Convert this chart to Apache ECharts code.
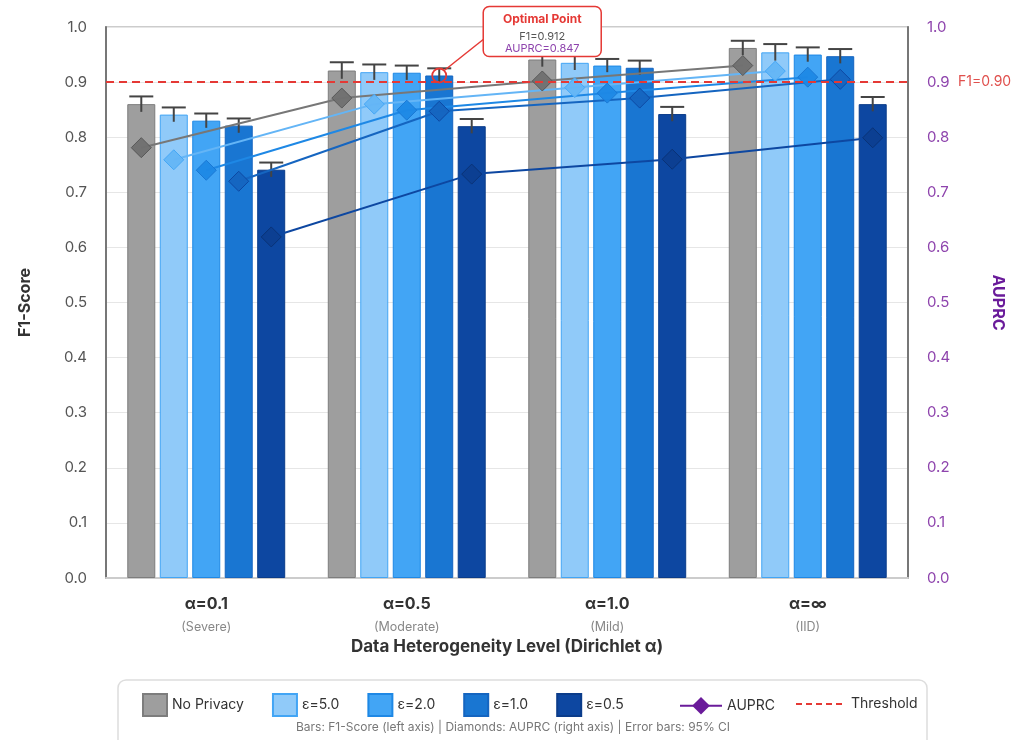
<!DOCTYPE html>
<html>
<head>
<meta charset="utf-8">
<script src="https://cdn.jsdelivr.net/npm/echarts@6/dist/echarts.min.js"></script>
<style>
  html, body { margin: 0; padding: 0; background: #fff; }
  #main { width: 1027px; height: 740px; }
</style>
</head>
<body>
<div id="main"></div>
<script>
// 数据
const categories = ['α=0.1', 'α=0.5', 'α=1.0', 'α=∞'];
const levels = ['(Severe)', '(Moderate)', '(Mild)', '(IID)'];
const names = ['No Privacy', 'ε=5.0', 'ε=2.0', 'ε=1.0', 'ε=0.5'];

// F1 (left axis)
const f1NoPriv = [0.860, 0.921, 0.941, 0.962];
const f1Eps5 = [0.841, 0.918, 0.935, 0.954];
const f1Eps2 = [0.830, 0.917, 0.930, 0.950];
const f1Eps1 = [0.821, 0.912, 0.926, 0.947];
const f1Eps05 = [0.741, 0.820, 0.842, 0.860];

// 95% CI half width
const errNoPriv = [0.014, 0.015, 0.013, 0.013];
const errEps5 = [0.013, 0.014, 0.013, 0.015];
const errEps2 = [0.013, 0.013, 0.012, 0.013];
const errEps1 = [0.013, 0.013, 0.013, 0.013];
const errEps05 = [0.013, 0.013, 0.013, 0.013];

// AUPRC (right axis)
const auNoPriv = [0.781, 0.871, 0.902, 0.930];
const auEps5 = [0.759, 0.860, 0.890, 0.920];
const auEps2 = [0.740, 0.849, 0.880, 0.909];
const auEps1 = [0.720, 0.847, 0.871, 0.905];
const auEps05 = [0.619, 0.733, 0.760, 0.799];

const yTicks = ['0.0', '0.1', '0.2', '0.3', '0.4', '0.5', '0.6', '0.7', '0.8', '0.9', '1.0'];
const threshold = 0.90;
const optimal = { cat: 1, k: 3, f1: 0.912, auprc: 0.847 };

const f1All = [f1NoPriv, f1Eps5, f1Eps2, f1Eps1, f1Eps05];
const errAll = [errNoPriv, errEps5, errEps2, errEps1, errEps05];
const auAll = [auNoPriv, auEps5, auEps2, auEps1, auEps05];

// 样式
const barFill = ['#9E9E9E', '#90CAF9', '#42A5F5', '#1976D2', '#0D47A1'];
const barBorder = ['#7d7d7d', '#42A5F5', '#1E88E5', '#1565C0', '#0B3C8A'];
const lineColor = ['#777777', '#64B5F6', '#1E88E5', '#1565C0', '#0D47A1'];
const diaFill = ['#707070', '#64B5F6', '#1E88E5', '#1565C0', '#0D3F91'];
const diaStroke = ['#555555', '#42A5F5', '#1976D2', '#0D47A1', '#0A3275'];

const FONT = 'Inter, "Noto Sans", sans-serif';
const BAR_W = 28;
const BAR_GAP = 0.16;
let barOffset = (k) => (k - 2) * BAR_W * (1 + BAR_GAP);

let chart = echarts.init(document.getElementById('main'));

let series = [];

// 柱状图
f1All.forEach((arr, k) => {
    series.push({
        name: names[k],
        type: 'bar',
        barWidth: BAR_W,
        barGap: (BAR_GAP * 100) + '%',
        data: arr,
        itemStyle: { color: barFill[k], borderColor: barBorder[k], borderWidth: 1 },
        z: 2
    });
});

// 误差线
let errData = [];
f1All.forEach((arr, k) => {
    arr.forEach((v, i) => errData.push([i, v, errAll[k][i], k]));
});
series.push({
    name: 'err',
    type: 'custom',
    data: errData,
    encode: { x: 0, y: 1 },
    z: 3,
    silent: true,
    renderItem: (params, api) => {
        let i = api.value(0), v = api.value(1), e = api.value(2), k = api.value(3);
        let p = api.coord([i, v]);
        let top = api.coord([i, v + e])[1];
        let bot = api.coord([i, v - e])[1];
        let x = p[0] + barOffset(k);
        let st = { stroke: '#444', lineWidth: 2 };
        return {
            type: 'group',
            children: [
                { type: 'line', shape: { x1: x, y1: top, x2: x, y2: bot }, style: st },
                { type: 'line', shape: { x1: x - 12, y1: top, x2: x + 12, y2: top }, style: st }
            ]
        };
    }
});

// AUPRC 折线 + 菱形
auAll.forEach((arr, k) => {
    series.push({
        name: 'auprc-' + k,
        type: 'custom',
        yAxisIndex: 1,
        data: arr.map((v, i) => [i, v]),
        encode: { x: 0, y: 1 },
        z: 4,
        silent: true,
        renderItem: (params, api) => {
            let i = params.dataIndex;
            let off = barOffset(k);
            let p = api.coord([i, arr[i]]);
            let x = p[0] + off, y = p[1];
            let children = [];
            if (i < arr.length - 1) {
                let q = api.coord([i + 1, arr[i + 1]]);
                children.push({
                    type: 'line', z2: 1,
                    shape: { x1: x, y1: y, x2: q[0] + off, y2: q[1] },
                    style: { stroke: lineColor[k], lineWidth: 2 }
                });
            }
            let r = 10;
            children.push({
                type: 'polygon', z2: 20,
                shape: { points: [[x, y - r], [x + r, y], [x, y + r], [x - r, y]] },
                style: { fill: diaFill[k], stroke: diaStroke[k], lineWidth: 1, opacity: 0.95 }
            });
            return { type: 'group', children: children };
        }
    });
});

// 最优点标注
series.push({
    name: 'optimal',
    type: 'custom',
    data: [[optimal.cat, optimal.f1]],
    encode: { x: 0, y: 1 },
    z: 10,
    silent: true,
    renderItem: (params, api) => {
        let p = api.coord([optimal.cat, optimal.f1]);
        let cx = p[0] + barOffset(optimal.k), cy = p[1];
        let bx = cx + 44, by = cy - 69, bw = 118, bh = 50;
        return {
            type: 'group',
            children: [
                { type: 'line', shape: { x1: cx + 5, y1: cy - 5, x2: bx, y2: by + 33 }, style: { stroke: '#E53935', lineWidth: 1.5 } },
                { type: 'circle', shape: { cx: cx, cy: cy, r: 7 }, style: { fill: 'rgba(255,255,255,0)', stroke: '#E53935', lineWidth: 1.8 } },
                { type: 'rect', shape: { x: bx, y: by, width: bw, height: bh, r: 6 }, style: { fill: '#fff', stroke: '#E53935', lineWidth: 1.5 } },
                { type: 'text', style: { text: 'Optimal Point', x: bx + bw / 2, y: by + 13, align: 'center', verticalAlign: 'middle', fill: '#E53935', font: 'bold 12px ' + FONT } },
                { type: 'text', style: { text: 'F1=' + optimal.f1.toFixed(3), x: bx + bw / 2, y: by + 30, align: 'center', verticalAlign: 'middle', fill: '#555', font: '11px ' + FONT } },
                { type: 'text', style: { text: 'AUPRC=' + optimal.auprc.toFixed(3), x: bx + bw / 2, y: by + 42, align: 'center', verticalAlign: 'middle', fill: '#8E44AD', font: '11px ' + FONT } }
            ]
        };
    }
});

// 图例用的系列
series.push({
    name: 'AUPRC',
    type: 'line',
    data: [],
    color: '#6A1B9A',
    symbol: 'diamond',
    symbolSize: 18,
    lineStyle: { width: 3, color: '#6A1B9A' },
    itemStyle: { color: '#6A1B9A' }
});
// 阈值线
series.push({
    name: 'Threshold',
    type: 'line',
    data: [],
    color: '#E53935',
    symbol: 'none',
    markLine: {
        silent: true,
        symbol: 'none',
        data: [{ yAxis: threshold }],
        lineStyle: { color: '#E53935', width: 2, type: [8, 5] },
        label: {
            position: 'end',
            distance: 50,
            formatter: 'F1=0.90',
            color: '#E0504D',
            fontSize: 14,
            fontFamily: FONT
        }
    },
    z: 5
});

let option = {
    animation: false,
    textStyle: { fontFamily: FONT },
    grid: {
        left: 106, right: 119, top: 27, bottom: 162,
        show: true, borderColor: '#cccccc', borderWidth: 2
    },
    legend: [{
        data: names.map((n) => ({ name: n, icon: 'rect' })),
        left: 137, top: 688,
        itemWidth: 24, itemHeight: 22, itemGap: 28,
        textStyle: { fontSize: 14, color: '#333', fontFamily: FONT }
    }, {
        data: ['AUPRC'],
        left: 674, top: 692,
        itemWidth: 42, itemHeight: 22,
        textStyle: { fontSize: 14, color: '#333', fontFamily: FONT }
    }],
    xAxis: {
        type: 'category',
        data: categories,
        name: 'Data Heterogeneity Level (Dirichlet α)',
        nameLocation: 'middle',
        nameGap: 58,
        nameTextStyle: { fontSize: 17, fontWeight: 'bold', color: '#333' },
        axisLine: { lineStyle: { color: '#cccccc', width: 2 } },
        axisTick: { show: false },
        axisLabel: {
            margin: 14,
            formatter: (v, i) => '{a|' + v + '}\n{b|' + levels[i] + '}',
            rich: {
                a: { fontSize: 16, fontWeight: 'bold', color: '#333', lineHeight: 24 },
                b: { fontSize: 12.5, color: '#888', lineHeight: 22 }
            }
        }
    },
    yAxis: [{
        type: 'value',
        min: 0, max: 1, interval: 0.1,
        name: 'F1-Score',
        nameLocation: 'middle',
        nameRotate: 90,
        nameGap: 73,
        nameTextStyle: { fontSize: 16, fontWeight: 'bold', color: '#333' },
        axisLine: { show: true, lineStyle: { color: '#777', width: 2 } },
        axisTick: { show: false },
        axisLabel: { margin: 19, fontSize: 15, color: '#555', formatter: (v) => yTicks[Math.round(v * 10)] },
        splitLine: { lineStyle: { color: '#e6e6e6', width: 1 } }
    }, {
        type: 'value',
        min: 0, max: 1, interval: 0.1,
        position: 'right',
        name: 'AUPRC',
        nameLocation: 'middle',
        nameRotate: -90,
        nameGap: 82,
        nameTextStyle: { fontSize: 16, fontWeight: 'bold', color: '#6A1B9A' },
        axisLine: { show: true, lineStyle: { color: '#777', width: 2 } },
        axisTick: { show: false },
        axisLabel: { margin: 19, fontSize: 15, color: '#8E44AD', formatter: (v) => yTicks[Math.round(v * 10)] },
        splitLine: { show: false }
    }],
    graphic: [{
        type: 'rect',
        z: 0,
        shape: { x: 118, y: 680, width: 809, height: 72, r: 8 },
        style: { fill: '#fff', stroke: '#dddddd', lineWidth: 1.5 }
    }, {
        // Threshold 图例
        type: 'line',
        z: 1,
        shape: { x1: 796, y1: 704, x2: 845, y2: 704 },
        style: { stroke: '#E53935', lineWidth: 2, lineDash: [6, 4] }
    }, {
        type: 'text',
        z: 1,
        style: {
            text: 'Threshold', x: 851, y: 704,
            align: 'left', verticalAlign: 'middle',
            fill: '#333', font: '14px ' + FONT
        }
    }, {
        type: 'text',
        z: 1,
        style: {
            text: 'Bars: F1-Score (left axis) | Diamonds: AUPRC (right axis) | Error bars: 95% CI',
            x: 513, y: 727,
            align: 'center', verticalAlign: 'middle',
            fill: '#777', font: '12px ' + FONT
        }
    }],
    series: series
};

chart.setOption(option);
</script>
</body>
</html>
